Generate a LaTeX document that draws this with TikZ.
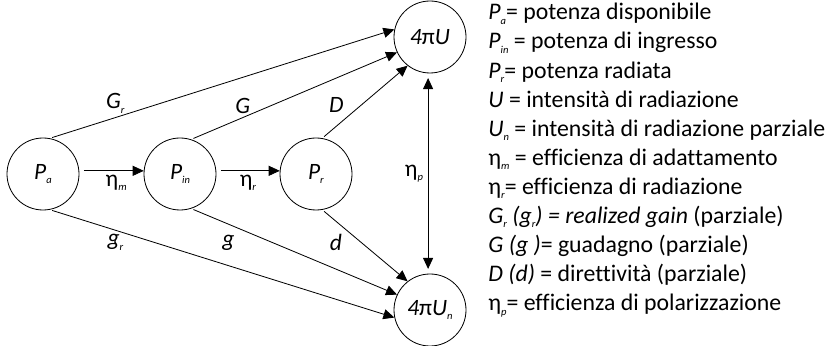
\documentclass[tikz,border=0pt]{standalone}
\usepackage{fontspec}
\setmainfont{Carlito}[Ligatures=CommonOff]
\usetikzlibrary{arrows.meta}
\newcommand{\idx}[1]{\raisebox{-0.4ex}{\fontsize{9}{9}\selectfont\itshape #1}}

\begin{document}
\begin{tikzpicture}[
		x=0.03cm, y=-0.03cm,
		line width=0.7pt,
		font=\fontsize{20}{22}\selectfont,
		p/.style = {circle, draw, minimum size=2.16cm, inner sep=0},
		r/.style = {-{Triangle[length=0.33cm, width=0.3cm]}, shorten <=2pt},
		]
		\useasboundingbox (0, 0) rectangle (834, 346);
		
		% === === Nodes === ===
		\node[p]	(Pa)	at	(43, 174)	{\textit{P}\idx{a}};
		\node[p]	(Pin)	at	(180, 174)	{\textit{P}\idx{in}};
		\node[p]	(Pr)	at	(316, 174)	{\textit{P}\idx{r}};
		\node[p]	(U)		at	(430, 37)	{\textit{4}π\textit{U}};
		\node[p]	(Un)	at	(430, 310)	{\textit{4}π\textit{U}\idx{n}};
		
		\node[
			anchor=north west, inner sep=0, align=left,
			font=\fontsize{20.3}{24.8}\selectfont
			] (legend) at (488, 3) {%
			\textit{P}\idx{a}= potenza disponibile\\
			\textit{P}\idx{in} = potenza di ingresso\\
			\textit{P}\idx{r}= potenza radiata\\
			\textit{U} = intensità di radiazione\\
			\textit{U}\idx{n} = intensità di radiazione parziale\\
			η\idx{m} = efficienza di adattamento\\
			η\idx{r}= efficienza di radiazione\\
			\textit{G}\idx{r} \textit{(g}\idx{r}\textit{) = realized gain} (parziale)\\
			\textit{G (g )}= guadagno (parziale)\\
			\textit{D (d)} = direttività (parziale)\\
			η\idx{p}= efficienza di polarizzazione};
		
		% === === Lines === ===
		\draw[r, shorten <=4pt]	(Pa.5)	to	node[below, xshift=4pt]	{η\idx{m}}	(Pin.175);
		\draw[r, shorten <=4pt]	(Pin.5)	to	node[below]	{η\idx{r}}	(Pr.175);
		
		\draw[r]	(Pa.79)		to	node[above, pos=0.19]		{\textit{G}\idx{r}}	(U.168);
		\draw[r]	(Pin.72)	to	node[above, pos=0.25]		{\textit{G}}		(U.205);
		\draw[r]	(Pr.80)		to	node[above left, pos=0.3]	{\textit{D}}		(U.232);
		
		\draw[r]	(Pa.-79)	to	node[below, pos=0.19]		{\textit{g}\idx{r}}	(Un.192);
		\draw[r]	(Pin.-72)	to	node[below=6pt, pos=0.18]	{\textit{g}}		(Un.155);
		\draw[r]	(Pr.-80)	to	node[below left, pos=0.28]	{\textit{d}}		(Un.128);
		
		\draw[r, {Triangle[length=0.33cm, width=0.3cm]}-{Triangle[length=0.33cm, width=0.3cm]}, shorten <=4pt, shorten >=4pt]
			(U.-93)	to	node[left, inner sep=4pt]	{η\idx{p}}	(Un.93);
		
	\end{tikzpicture}
\end{document}
